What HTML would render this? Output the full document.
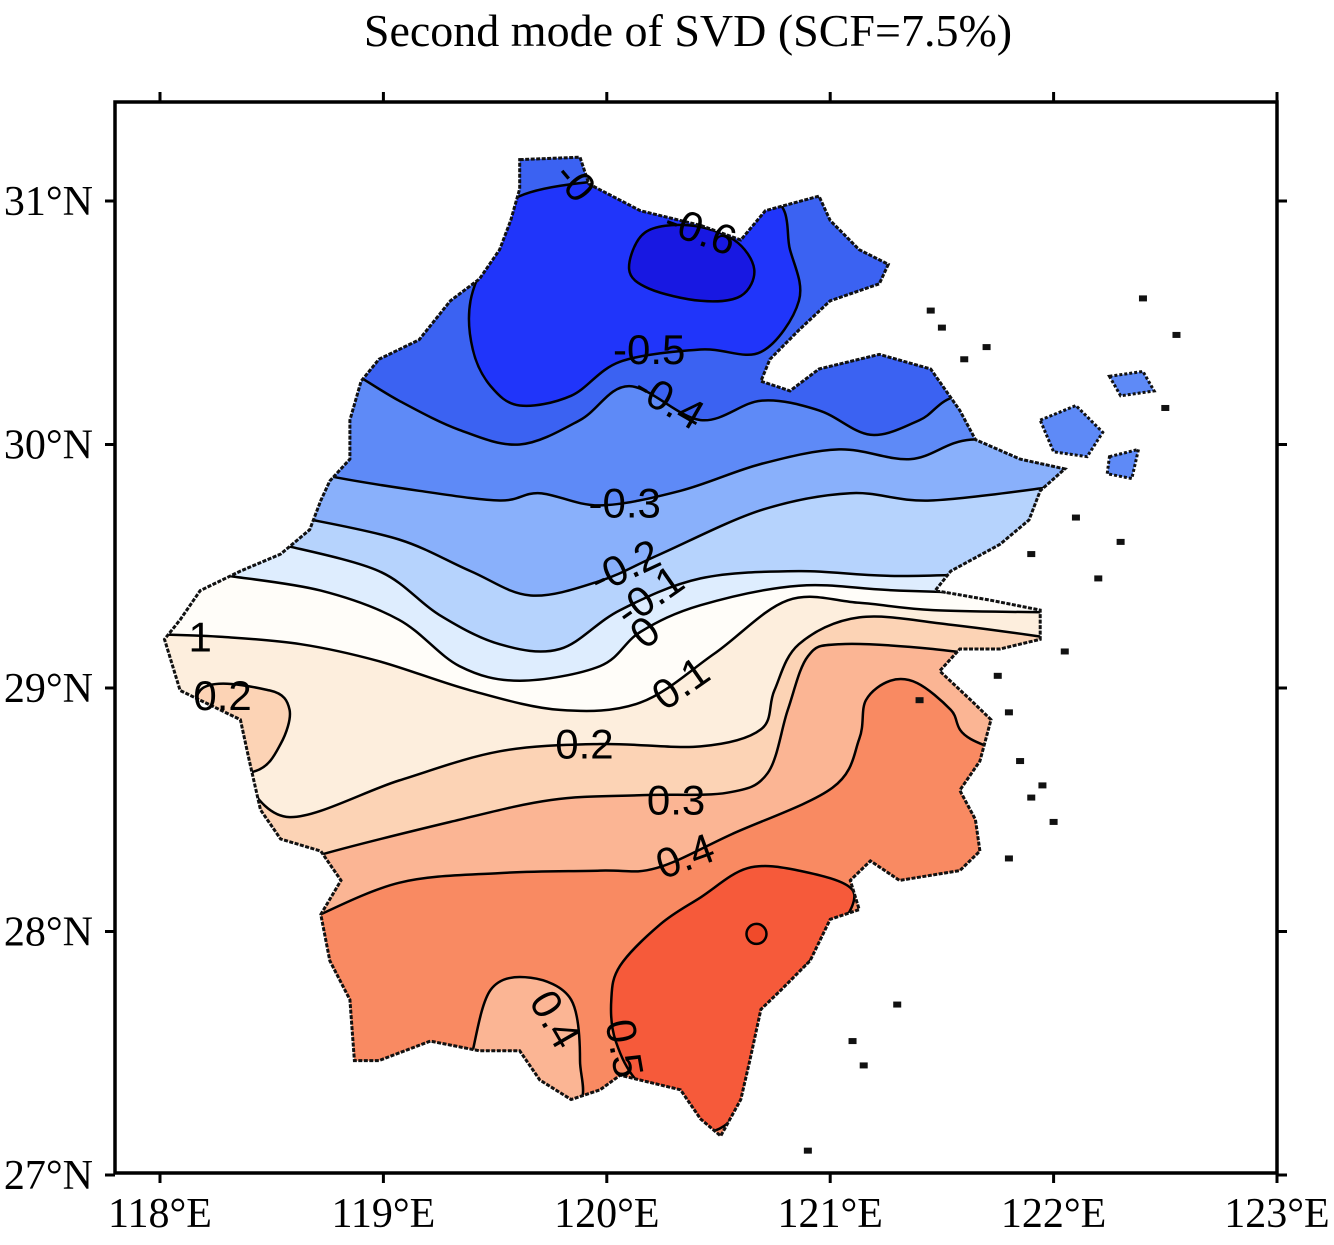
<!DOCTYPE html>
<html><head><meta charset="utf-8"><style>
html,body{margin:0;padding:0;background:#fff;}
svg{display:block;}
.ax{font-family:"Liberation Serif",serif;font-size:42px;fill:#000;}
.cl{font-family:"Liberation Sans",sans-serif;font-size:42px;fill:#000;}
</style></head><body>
<svg id="chart" width="1334" height="1245" viewBox="0 0 1334 1245">
<text x="688" y="46" text-anchor="middle" class="ax" style="font-size:46px">Second mode of SVD (SCF=7.5%)</text>
<g id="mapg"></g>
<g id="axes"></g>
</svg>
<script>
const xTicks=[118,119,120,121,122,123];
const yTicks=[27,28,29,30,31];
const xTickLabels=["118°E","119°E","120°E","121°E","122°E","123°E"];
const yTickLabels=["27°N","28°N","29°N","30°N","31°N"];
const outline=[[119.61,31.17],[119.88,31.18],[119.92,31.07],[120.15,30.96],[120.42,30.90],[120.60,30.84],[120.71,30.96],[120.95,31.02],[121.00,30.92],[121.13,30.80],[121.26,30.74],[121.22,30.66],[121.00,30.59],[120.86,30.47],[120.73,30.35],[120.69,30.26],[120.82,30.22],[120.95,30.31],[121.22,30.37],[121.45,30.31],[121.58,30.14],[121.65,30.02],[121.85,29.94],[122.05,29.90],[121.94,29.81],[121.89,29.69],[121.76,29.59],[121.54,29.48],[121.47,29.40],[121.72,29.36],[121.94,29.32],[121.94,29.20],[121.76,29.16],[121.58,29.16],[121.49,29.07],[121.63,28.95],[121.72,28.87],[121.67,28.70],[121.58,28.58],[121.65,28.46],[121.67,28.33],[121.58,28.25],[121.31,28.21],[121.18,28.29],[121.09,28.21],[121.13,28.09],[121.00,28.05],[120.91,27.88],[120.78,27.76],[120.69,27.68],[120.64,27.47],[120.60,27.31],[120.51,27.16],[120.42,27.23],[120.33,27.35],[120.06,27.41],[119.97,27.35],[119.84,27.31],[119.70,27.39],[119.61,27.51],[119.43,27.51],[119.21,27.55],[118.98,27.47],[118.87,27.47],[118.85,27.72],[118.76,27.88],[118.72,28.07],[118.81,28.21],[118.72,28.33],[118.54,28.38],[118.45,28.50],[118.40,28.70],[118.36,28.87],[118.18,28.95],[118.09,28.99],[118.02,29.20],[118.09,29.28],[118.18,29.40],[118.36,29.48],[118.54,29.55],[118.67,29.65],[118.72,29.77],[118.76,29.85],[118.85,29.94],[118.85,30.10],[118.90,30.26],[118.98,30.35],[119.16,30.43],[119.30,30.59],[119.43,30.68],[119.52,30.80],[119.57,30.92],[119.61,31.05]];
const islandA=[[121.94,30.10],[122.10,30.16],[122.22,30.05],[122.15,29.95],[122.00,29.97]];
const islandB=[[122.25,30.28],[122.40,30.30],[122.45,30.22],[122.30,30.20]];
const islandC=[[122.25,29.95],[122.38,29.98],[122.35,29.86],[122.24,29.88]];
const speckLon=[121.45,121.5,121.6,121.7,121.75,121.8,121.85,121.95,122.0,121.9,122.1,122.2,122.3,121.4,121.8,121.3,121.1,121.15,120.9,122.4,122.55,122.5,121.9,122.05];
const speckLat=[30.55,30.48,30.35,30.4,29.05,28.9,28.7,28.6,28.45,29.55,29.7,29.45,29.6,28.95,28.3,27.7,27.55,27.45,27.1,30.6,30.45,30.15,28.55,29.15];
const baseColor="#3b62f2";
const levels=[-0.4,-0.3,-0.2,-0.1,0,0.1,0.2,0.3,0.4];
const bandColors=["#5e8af7","#89b0fb","#b6d3fd","#deedfe","#fffdf9","#fdeedd","#fcd3b5","#fbb594","#f98a62"];
const lineM04=[[118.76,30.33],[118.87,30.29],[119.07,30.18],[119.34,30.06],[119.61,30.00],[119.88,30.10],[120.10,30.24],[120.42,30.10],[120.69,30.18],[120.95,30.14],[121.18,30.04],[121.40,30.10],[121.58,30.20],[121.98,30.18]];
const lineM03=[[118.67,29.90],[118.76,29.87],[119.16,29.81],[119.52,29.77],[119.70,29.80],[119.97,29.75],[120.33,29.81],[120.69,29.92],[121.04,29.98],[121.36,29.94],[121.63,30.02],[122.03,29.98]];
const lineM02=[[118.63,29.70],[119.07,29.61],[119.39,29.48],[119.66,29.38],[119.97,29.44],[120.24,29.55],[120.69,29.73],[121.09,29.80],[121.45,29.77],[122.03,29.83]];
const lineM01=[[118.54,29.59],[118.98,29.48],[119.25,29.30],[119.52,29.18],[119.79,29.16],[120.06,29.32],[120.42,29.45],[120.86,29.48],[121.31,29.46],[122.03,29.48]];
const line00=[[118.31,29.46],[118.72,29.40],[119.07,29.28],[119.34,29.09],[119.61,29.03],[119.97,29.09],[120.15,29.23],[120.42,29.34],[120.86,29.42],[121.31,29.40],[122.03,29.38]];
const line01=[[118.00,29.22],[118.28,29.21],[118.63,29.18],[118.98,29.11],[119.39,28.99],[119.79,28.91],[120.15,28.94],[120.48,29.14],[120.81,29.36],[121.13,29.35],[121.46,29.32],[122.03,29.31]];
const line02=[[118.36,28.64],[118.58,28.47],[119.07,28.62],[119.52,28.74],[119.97,28.77],[120.42,28.76],[120.69,28.83],[120.75,28.99],[120.86,29.18],[121.13,29.29],[121.54,29.26],[122.03,29.20]];
const line03=[[118.63,28.27],[118.70,28.31],[119.30,28.45],[119.75,28.54],[120.16,28.56],[120.54,28.57],[120.72,28.65],[120.81,28.91],[120.90,29.13],[121.04,29.18],[121.46,29.16],[122.03,29.09]];
const line04=[[118.67,28.05],[119.07,28.20],[119.52,28.24],[119.97,28.25],[120.22,28.26],[120.56,28.40],[121.01,28.59],[121.13,28.79],[121.16,28.95],[121.27,29.03],[121.39,29.02],[121.54,28.91],[121.63,28.79],[122.03,28.66]];
const loopP05=[[120.06,27.86],[120.24,28.03],[120.42,28.14],[120.63,28.26],[120.86,28.25],[121.10,28.17],[121.04,28.01],[120.91,27.88],[120.78,27.72],[120.69,27.51],[120.60,27.27],[120.42,27.18],[120.15,27.37],[120.04,27.55],[120.02,27.72]];
const loopSW04=[[119.39,27.47],[119.48,27.76],[119.66,27.81],[119.84,27.72],[119.88,27.47],[119.84,27.27],[119.34,27.27]];
const loopW02=[[118.18,28.99],[118.49,28.99],[118.58,28.91],[118.54,28.77],[118.43,28.66],[118.18,28.66]];
const loopM05=[[119.61,31.02],[119.48,30.80],[119.39,30.59],[119.40,30.39],[119.48,30.24],[119.61,30.16],[119.84,30.20],[120.06,30.34],[120.42,30.39],[120.69,30.38],[120.86,30.59],[120.82,30.80],[120.73,31.02],[120.19,31.09]];
const loopM06=[[120.10,30.72],[120.17,30.87],[120.37,30.90],[120.57,30.84],[120.66,30.72],[120.60,30.61],[120.42,30.59],[120.19,30.64]];
const labelText=["-0.5","-0.4","-0.3","-0.2","-0.1","0","0.1","0.2","0.3","0.4","0.4","-0.6","-0","0.2","1","0.5"];
const labelLon=[120.19,120.28,120.08,120.08,120.19,120.17,120.33,119.90,120.31,120.35,119.77,120.42,119.86,118.28,118.18,120.08];
const labelLat=[30.39,30.18,29.76,29.50,29.38,29.23,29.02,28.77,28.54,28.31,27.64,30.88,31.08,28.97,29.21,27.52];
const labelRot=[0,30,0,-25,-35,-40,-35,0,0,-20,60,20,50,0,0,80];
const dotLon=[120.67], dotLat=[27.99];

const X0=160,XS=223.4,Y0=201,YS=243.5;
function sx(lon){return X0+(lon-118)*XS;}
function sy(lat){return Y0+(31-lat)*YS;}
const NS="http://www.w3.org/2000/svg";
function P(arr){return arr.map(p=>[sx(p[0]),sy(p[1])]);}
function smooth(pts,closed){
  const n=pts.length;let d="";
  const g=i=>closed?pts[(i+n)%n]:pts[Math.max(0,Math.min(n-1,i))];
  d+="M"+pts[0][0].toFixed(1)+","+pts[0][1].toFixed(1);
  const m=closed?n:n-1;
  for(let i=0;i<m;i++){
    const p0=g(i-1),p1=g(i),p2=g(i+1),p3=g(i+2);
    const c1=[p1[0]+(p2[0]-p0[0])/6,p1[1]+(p2[1]-p0[1])/6];
    const c2=[p2[0]-(p3[0]-p1[0])/6,p2[1]-(p3[1]-p1[1])/6];
    d+="C"+c1[0].toFixed(1)+","+c1[1].toFixed(1)+" "+c2[0].toFixed(1)+","+c2[1].toFixed(1)+" "+p2[0].toFixed(1)+","+p2[1].toFixed(1);
  }
  if(closed)d+="Z";
  return d;
}
function mk(tag,attrs,parent){const e=document.createElementNS(NS,tag);for(const k in attrs)e.setAttribute(k,attrs[k]);parent.appendChild(e);return e;}
const svg=document.getElementById('chart');
const mapg=document.getElementById('mapg');
const defs=mk('defs',{},svg);
const cp=mk('clipPath',{id:'prov'},defs);
const outPts=P(outline);
const outD="M"+outPts.map(p=>p[0].toFixed(1)+","+p[1].toFixed(1)).join("L")+"Z";
mk('path',{d:outD},cp);
const fillG=mk('g',{'clip-path':'url(#prov)'},mapg);
let e=mk('rect',{x:100,y:100,width:1200,height:1100,fill:baseColor},fillG);


const lines=[lineM04,lineM03,lineM02,lineM01,line00,line01,line02,line03,line04];
lines.forEach((ln,i)=>{
  const pts=P(ln);
  const last=pts[pts.length-1],first=pts[0];
  const d=smooth(pts,false)+"L"+(last[0]+300)+","+last[1]+"L"+(last[0]+300)+",1300L"+(first[0]-300)+",1300L"+(first[0]-300)+","+first[1]+"Z";
  const b=mk('path',{d:d,fill:bandColors[i]},fillG);
  
  
});
function loop(arr,fill,name){
  const l=mk('path',{d:smooth(P(arr),true),fill:fill},fillG);
  
  
}
loop(loopW02,"#fcd3b5",'band-west-0.2');
loop(loopSW04,"#fbb594",'band-southwest-0.4');
loop(loopP05,"#f65a3a",'band-above-0.5');
loop(loopM05,"#2035fa",'band-below-minus-0.5');
loop(loopM06,"#1818e2",'band-below-minus-0.6');
const lineG=mk('g',{'clip-path':'url(#prov)',fill:'none',stroke:'#000','stroke-width':2.5},mapg);
lines.forEach((ln,i)=>{
  const l=mk('path',{d:smooth(P(ln),false)},lineG);
  
  
});
[[loopW02,'contour-west-0.2'],[loopSW04,'contour-southwest-0.4'],[loopP05,'contour-0.5'],[loopM05,'contour-minus-0.5'],[loopM06,'contour-minus-0.6']].forEach(a=>{
  const l=mk('path',{d:smooth(P(a[0]),true)},lineG);
  
  
});
dotLon.forEach((lo,i)=>{
  const c=mk('circle',{cx:sx(lo),cy:sy(dotLat[i]),r:10,fill:'#f04a2a',stroke:'#000','stroke-width':2.5},mapg);
  
  
});
[islandA,islandB,islandC].forEach((isl,i)=>{
  const pts=P(isl);
  const s=mk('path',{d:"M"+pts.map(p=>p.join(",")).join("L")+"Z",fill:'#5e8af7',stroke:'#111','stroke-width':3,'stroke-dasharray':'3 2'},mapg);
  
  
});
speckLon.forEach((lo,i)=>{
  const s=mk('rect',{x:sx(lo)-4,y:sy(speckLat[i])-3,width:8,height:6,fill:'#111'},mapg);
  
  
});
const ol=mk('path',{d:outD,fill:'none',stroke:'#111','stroke-width':3,'stroke-dasharray':'4 1.5'},mapg);


labelText.forEach((t,i)=>{
  const x=sx(labelLon[i]),y=sy(labelLat[i]);
  const tx=mk('text',{x:x,y:y,'text-anchor':'middle','dominant-baseline':'central',class:'cl',transform:'rotate('+labelRot[i]+' '+x+' '+y+')'},mapg);
  tx.textContent=t;
  
  
});
const axes=document.getElementById('axes');
const L=115,R=1277,T=102,B=1173;
const fr=mk('rect',{x:L,y:T,width:R-L,height:B-T,fill:'none',stroke:'#000','stroke-width':3.5},axes);


xTicks.forEach((v,i)=>{
  const x=sx(v);
  mk('line',{x1:x,y1:T,x2:x,y2:T-10,stroke:'#000','stroke-width':3},axes);
  mk('line',{x1:x,y1:B,x2:x,y2:B+10,stroke:'#000','stroke-width':3},axes);
  const t=mk('text',{x:x,y:1227,'text-anchor':'middle',class:'ax'},axes);
  t.textContent=xTickLabels[i];
  
  
});
yTicks.forEach((v,i)=>{
  const y=sy(v);
  mk('line',{x1:L,y1:y,x2:L-10,y2:y,stroke:'#000','stroke-width':3},axes);
  mk('line',{x1:R,y1:y,x2:R+10,y2:y,stroke:'#000','stroke-width':3},axes);
  const t=mk('text',{x:93,y:y+14,'text-anchor':'end',class:'ax'},axes);
  t.textContent=yTickLabels[i];
  
  
});
</script>
</body></html>
